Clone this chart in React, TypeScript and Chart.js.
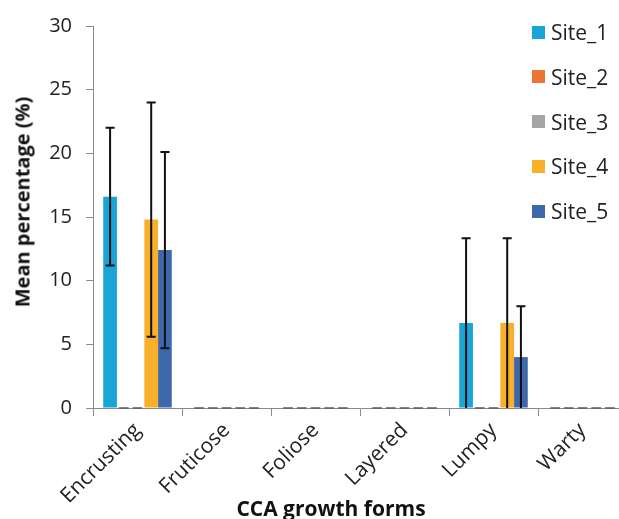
import React, { useEffect, useRef } from "react";
import { Chart, registerables } from "chart.js";

Chart.register(...registerables);

const categories = ["Encrusting", "Fruticose", "Foliose", "Layered", "Lumpy", "Warty"];
const siteNames = ["Site_1", "Site_2", "Site_3", "Site_4", "Site_5"];
const siteColors = ["#1AA5D8", "#EE7434", "#A5A5A5", "#F8B02A", "#3F68AC"];

const site1 = [16.6, 0, 0, 0, 6.67, 0];
const site2 = [0, 0, 0, 0, 0, 0];
const site3 = [0, 0, 0, 0, 0, 0];
const site4 = [14.8, 0, 0, 0, 6.67, 0];
const site5 = [12.4, 0, 0, 0, 4.0, 0];

const site1Err = [5.4, 0, 0, 0, 6.67, 0];
const site2Err = [0, 0, 0, 0, 0, 0];
const site3Err = [0, 0, 0, 0, 0, 0];
const site4Err = [9.2, 0, 0, 0, 6.67, 0];
const site5Err = [7.7, 0, 0, 0, 4.0, 0];

const yMin = 0;
const yMax = 30;
const yStep = 5;

const xTitle = "CCA growth forms";
const yTitle = "Mean percentage (%)";

const seriesValues = [site1, site2, site3, site4, site5];
const seriesErrors = [site1Err, site2Err, site3Err, site4Err, site5Err];

const FONT = "'Open Sans', 'DejaVu Sans', sans-serif";

const overlayPlugin = {
  id: "errorAndZero",
  afterDatasetsDraw(chart: any) {
    const ctx = chart.ctx;
    const yScale = chart.scales.y;
    const base = yScale.getPixelForValue(0);
    ctx.save();
    chart.data.datasets.forEach((ds: any, d: number) => {
      const meta = chart.getDatasetMeta(d);
      const errs = seriesErrors[d];
      meta.data.forEach((el: any, i: number) => {
        const v = ds.data[i];
        const w = el.width;
        if (v === 0) {
          ctx.strokeStyle = "#595959";
          ctx.lineWidth = 1.5;
          ctx.beginPath();
          ctx.moveTo(el.x - w / 2 + 2, base);
          ctx.lineTo(el.x + w / 2 - 2, base);
          ctx.stroke();
        }
        const e = errs[i];
        if (e > 0) {
          const top = yScale.getPixelForValue(v + e);
          const lowV = Math.max(0, v - e);
          const bot = yScale.getPixelForValue(lowV);
          ctx.strokeStyle = "#111";
          ctx.lineWidth = 2;
          ctx.beginPath();
          ctx.moveTo(el.x, top);
          ctx.lineTo(el.x, bot);
          ctx.moveTo(el.x - 4.5, top);
          ctx.lineTo(el.x + 4.5, top);
          if (lowV > 0.05) {
            ctx.moveTo(el.x - 4.5, bot);
            ctx.lineTo(el.x + 4.5, bot);
          }
          ctx.stroke();
        }
      });
    });
    ctx.restore();
  },
};

export default function App() {
  const ref = useRef<HTMLCanvasElement | null>(null);

  useEffect(() => {
    document.body.style.margin = "0";
    document.body.style.overflow = "hidden";
    const canvas = ref.current;
    if (!canvas) return;
    const chart = new Chart(canvas, {
      type: "bar",
      data: {
        labels: categories,
        datasets: siteNames.map((name, k) => ({
          label: name,
          data: seriesValues[k],
          backgroundColor: siteColors[k],
          borderWidth: 0,
          categoryPercentage: 0.77,
          barPercentage: 1.0,
        })),
      },
      options: {
        responsive: false,
        maintainAspectRatio: false,
        animation: false,
        devicePixelRatio: 1,
        layout: { padding: { left: 15, top: 20, right: 3, bottom: 0 } },
        plugins: {
          legend: { display: false },
          tooltip: { enabled: false },
        },
        scales: {
          x: {
            offset: true,
            afterFit: (s: any) => {
              s.height = 111;
            },
            grid: {
              display: true,
              drawOnChartArea: false,
              offset: true,
              tickLength: 8,
              color: "#8a8a8a",
              lineWidth: 1,
            },
            border: { display: true, color: "#8a8a8a", width: 1 },
            ticks: {
              minRotation: 45,
              maxRotation: 45,
              autoSkip: false,
              padding: 2,
              color: "#222",
              font: { family: FONT, size: 21 },
            },
          },
          y: {
            min: yMin,
            max: yMax,
            afterFit: (s: any) => {
              s.width = 78;
            },
            grid: {
              display: true,
              drawOnChartArea: false,
              tickLength: 7,
              color: "#8a8a8a",
              lineWidth: 1,
            },
            border: { display: true, color: "#8a8a8a", width: 1 },
            ticks: {
              stepSize: yStep,
              padding: 14,
              color: "#222",
              font: { family: FONT, size: 20 },
            },
          },
        },
      },
      plugins: [overlayPlugin],
    });
    return () => chart.destroy();
  }, []);

  return (
    <div style={{ position: "relative", width: 619, height: 519, overflow: "hidden", background: "#fff" }}>
      <canvas ref={ref} width={630} height={519} style={{ position: "absolute", left: 0, top: 0, width: 630, height: 519 }} />
      <div
        style={{
          position: "absolute",
          left: 22,
          top: 202,
          transform: "translate(-50%, -50%) rotate(-90deg)",
          whiteSpace: "nowrap",
          fontFamily: FONT,
          fontWeight: 700,
          fontSize: 20,
          color: "#111",
        }}
      >
        {yTitle}
      </div>
      <div
        style={{
          position: "absolute",
          left: 331,
          top: 508,
          transform: "translate(-50%, -50%)",
          whiteSpace: "nowrap",
          fontFamily: FONT,
          fontWeight: 700,
          fontSize: 21,
          color: "#111",
        }}
      >
        {xTitle}
      </div>
      {siteNames.map((name, k) => (
        <div
          key={name}
          style={{
            position: "absolute",
            left: 532,
            top: 32 + k * 44.8,
            transform: "translateY(-50%)",
            display: "flex",
            alignItems: "center",
            fontFamily: FONT,
            fontSize: 21,
            color: "#222",
            whiteSpace: "nowrap",
          }}
        >
          <span style={{ display: "inline-block", width: 13, height: 13, background: siteColors[k], marginRight: 6 }} />
          <span>{name}</span>
        </div>
      ))}
    </div>
  );
}
